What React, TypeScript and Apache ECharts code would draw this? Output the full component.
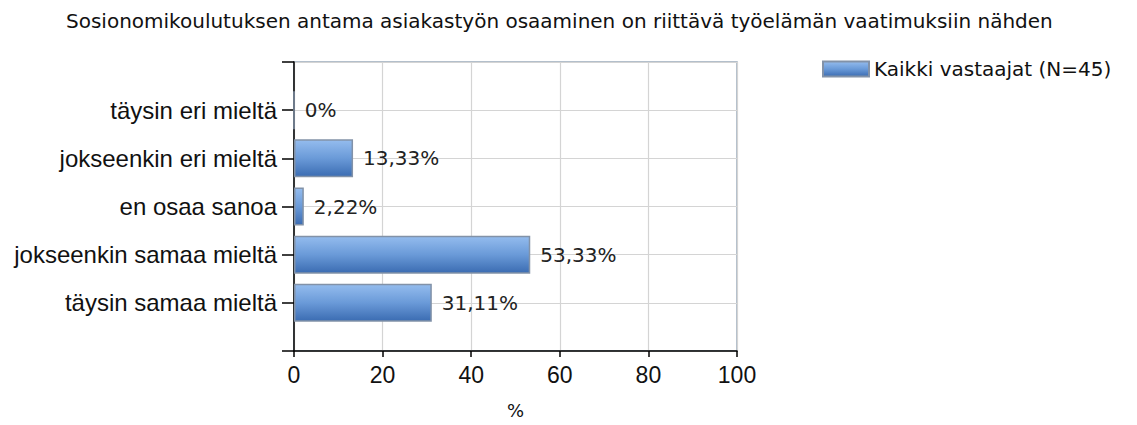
import React, { useEffect, useRef } from "react";
import * as echarts from "echarts";

const titleText = "Sosionomikoulutuksen antama asiakastyön osaaminen on riittävä työelämän vaatimuksiin nähden";
const categories = [
  "täysin eri mieltä",
  "jokseenkin eri mieltä",
  "en osaa sanoa",
  "jokseenkin samaa mieltä",
  "täysin samaa mieltä",
];
const values = [0, 13.33, 2.22, 53.33, 31.11];
const seriesName = "Kaikki vastaajat (N=45)";
const xTicks = [0, 20, 40, 60, 80, 100];

function fmt(v: number): string {
  if (v === 0) return "0%";
  return v.toFixed(2).replace(".", ",") + "%";
}

export default function App() {
  const ref = useRef<HTMLDivElement>(null);
  useEffect(() => {
    if (!ref.current) return;
    const chart = echarts.init(ref.current, undefined, { renderer: "svg" });
    const axisData = ["", ...categories, ""];
    const barData: (number | null)[] = [null, ...values, null];
    chart.setOption({
      animation: false,
      backgroundColor: "#ffffff",
      title: {
        text: titleText,
        left: 61,
        top: 6,
        textStyle: {
          fontFamily: "DejaVu Sans",
          fontSize: 20,
          fontWeight: "normal",
          color: "#111",
        },
      },
      legend: {
        left: 817,
        top: 54,
        itemWidth: 46,
        itemHeight: 15,
        itemGap: 8,
        icon: "rect",
        textStyle: { fontFamily: "DejaVu Sans", fontSize: 20, color: "#111" },
        data: [seriesName],
      },
      grid: {
        left: 294,
        right: 400,
        top: 62,
        bottom: 74,
        show: true,
        borderColor: "#9aaaba",
        borderWidth: 1.5,
        containLabel: false,
      },
      xAxis: {
        type: "value",
        min: xTicks[0],
        max: xTicks[xTicks.length - 1],
        interval: 20,
        name: "%",
        nameLocation: "middle",
        nameGap: 50,
        nameTextStyle: { fontFamily: "DejaVu Sans", fontSize: 18, color: "#111" },
        axisLine: { show: true, lineStyle: { color: "#000", width: 1.5 } },
        axisTick: { show: true, length: 6, lineStyle: { color: "#000", width: 1.5 } },
        axisLabel: {
          fontFamily: "Liberation Sans",
          fontSize: 23,
          color: "#111",
          margin: 12,
        },
        splitLine: { show: true, lineStyle: { color: "#d4d4d4", width: 1.2 } },
      },
      yAxis: {
        type: "category",
        inverse: true,
        boundaryGap: false,
        data: axisData,
        axisLine: { show: true, lineStyle: { color: "#000", width: 1.5 } },
        axisTick: { show: true, length: 12, alignWithLabel: true, lineStyle: { color: "#000", width: 1.5 } },
        axisLabel: {
          fontFamily: "Liberation Sans",
          fontSize: 24,
          color: "#111",
          margin: 17,
          interval: 0,
        },
        splitLine: { show: true, lineStyle: { color: "#d4d4d4", width: 1.2 } },
      },
      series: [
        {
          name: seriesName,
          type: "bar",
          data: barData,
          barWidth: 38,
          z: 3,
          itemStyle: {
            color: new echarts.graphic.LinearGradient(0, 0, 0, 1, [
              { offset: 0, color: "#94bcee" },
              { offset: 0.5, color: "#6a9ad8" },
              { offset: 1, color: "#3b6cb2" },
            ]),
            borderColor: "#8292a8",
            borderWidth: 1.5,
          },
          label: {
            show: true,
            position: "right",
            distance: 10,
            fontFamily: "DejaVu Sans",
            fontSize: 20,
            color: "#222",
            formatter: (p: any) => (p.value == null ? "" : fmt(p.value)),
          },
        },
      ],
    });
    return () => chart.dispose();
  }, []);
  return (
    <div
      ref={ref}
      style={{ position: "absolute", left: 0, top: 0, width: 1137, height: 425 }}
    />
  );
}
